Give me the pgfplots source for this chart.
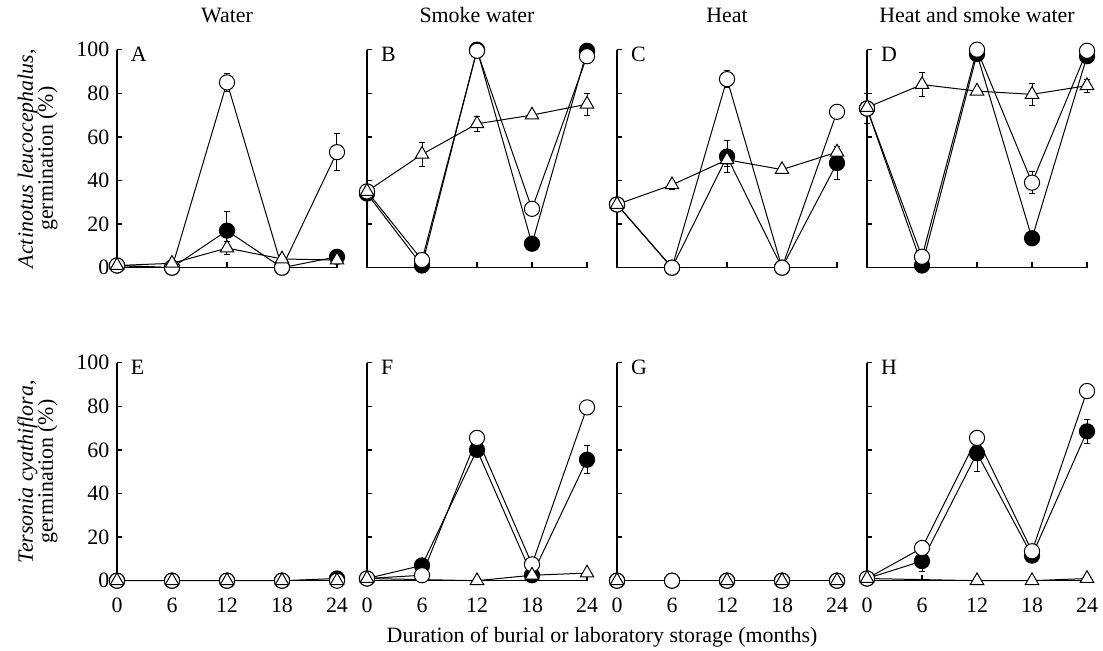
\documentclass[border=0pt,11pt]{standalone}
\usepackage{fontspec}
\setmainfont{Liberation Serif}
\usepackage{pgfplots}
\pgfplotsset{compat=1.18}
\usepackage{pgfplotstable}

% columns: months, filled circle (f), open circle (o), open triangle (t), each with its error
\pgfplotstableread{
x  f    fe   o    oe   t    te
0  1    0    1    0    1    0
6  0    0    0    0    2    0
12 17   9    85   4    9    3
18 0    0    0    0    4    0
24 5    1    53   8.5  3.5  0
}\tA
\pgfplotstableread{
x  f    fe   o    oe   t    te
0  34   3    35   3    35   2
6  1    0    3.5  0    52   5.5
12 100  0    99.5 0    66   3.5
18 11   0    27   0    70   1.5
24 99.5 0    97   0    75   5
}\tB
\pgfplotstableread{
x  f    fe   o    oe   t    te
0  29   2    29   2    29   1
6  0    0    0    0    38   2
12 51   7.5  86.5 4    49.5 3
18 0    0    0    0    45   1.5
24 48   7.5  71.5 2.5  53   0
}\tC
\pgfplotstableread{
x  f    fe   o    oe   t    te
0  73   0    73   7    73.5 0
6  1    0    5    0    84   5.5
12 98   0    100  0    81   1.5
18 13.5 0    39   5    79.5 5
24 97   0    99.5 0    83.5 3
}\tD
\pgfplotstableread{
x  f    fe   o    oe   t    te
0  0    0    0    0    0    0
6  0    0    0    0    0    0
12 0    0    0    0    0    0
18 0    0    0    0    0    0
24 1    0    0    0    0    0
}\tE
\pgfplotstableread{
x  f    fe   o    oe   t    te
0  1    0    1    0    1    0
6  7    0    2.5  0    nan  0
12 60   2    65.5 3    0    0
18 2.5  0    7.5  0    2.5  0
24 55.5 6.5  79.5 1    3.5  0
}\tF
\pgfplotstableread{
x  f    fe   o    oe   t    te
0  0    0    0    0    0    0
6  0    0    0    0    nan  0
12 0    0    0    0    0    0
18 0    0    0    0    0    0
24 0    0    0    0    0    0
}\tG
\pgfplotstableread{
x  f    fe   o    oe   t    te
0  1    0    1    0    1    0
6  9    5    15   0    nan  0
12 58.5 8.5  65.5 0    0    0
18 11.5 0    13.5 0    0    0
24 68.5 5.5  87   3    1    0
}\tH

\pgfplotsset{
  panel/.style={
    scale only axis, width=110pt, height=109pt,
    anchor=south west,
    xmin=0, xmax=24, ymin=0, ymax=100,
    axis x line*=bottom, axis y line*=left,
    axis line style={line width=0.65pt, -},
    xtick={0,6,12,18,24}, ytick={0,20,40,60,80,100},
    tick align=inside, major tick length=2.6pt,
    tick style={line width=0.65pt, black},
    xticklabel style={yshift=-5pt},
    /pgf/number format/assume math mode=true,
    clip=false,
  },
  nox/.style={xticklabels={}},
  noy/.style={yticklabels={}},
  ser/.style={black, line width=0.5pt,
    error bars/y dir=both, error bars/y explicit,
    error bars/error bar style={line width=0.5pt},
    error bars/error mark options={line width=0.5pt, mark size=1.5pt, rotate=90}},
  fser/.style={ser, mark=*, mark size=3.8pt, mark options={fill=black}},
  oser/.style={ser, mark=*, mark size=3.8pt, mark options={fill=white}},
  tser/.style={ser, mark=triangle*, mark size=3.9pt, mark options={fill=white}},
}

\newcommand{\series}[1]{%
  \addplot[fser] table[x=x, y=f, y error=fe] {#1};
  \addplot[oser] table[x=x, y=o, y error=oe] {#1};
  \addplot[tser] table[x=x, y=t, y error=te] {#1};
}
\newcommand{\letter}[1]{\node[anchor=base west, inner sep=0pt] at ([xshift=6.8pt, yshift=-5.8pt]rel axis cs:0,1) {#1};}
\newcommand{\coltitle}[1]{\node[anchor=base, inner sep=0pt] at ([yshift=13.7pt]rel axis cs:0.5,1) {#1};}

\begin{document}
\begin{tikzpicture}
\path[use as bounding box] (-58.5pt,-35.15pt) rectangle (493pt,290.35pt);

% top row: Actinotus leucocephalus
\begin{axis}[panel, nox, at={(0pt,156.5pt)}]
  \series{\tA}
  \letter{A}\coltitle{Water}
  \node[rotate=90, anchor=base, inner sep=0pt] at ([xshift=-42pt]rel axis cs:0,0.5) {\textit{Actinotus leucocephalus},};
  \node[rotate=90, anchor=base, inner sep=0pt] at ([xshift=-32pt]rel axis cs:0,0.5) {germination (\%)};
\end{axis}
\begin{axis}[panel, nox, noy, at={(125pt,156.5pt)}]
  \series{\tB}
  \letter{B}\coltitle{Smoke water}
\end{axis}
\begin{axis}[panel, nox, noy, at={(250pt,156.5pt)}]
  \series{\tC}
  \letter{C}\coltitle{Heat}
\end{axis}
\begin{axis}[panel, nox, noy, at={(375pt,156.5pt)}]
  \series{\tD}
  \letter{D}\coltitle{Heat and smoke water}
\end{axis}

% bottom row: Tersonia cyathiflora
\begin{axis}[panel, at={(0pt,0pt)}]
  \series{\tE}
  \letter{E}
  \node[rotate=90, anchor=base, inner sep=0pt] at ([xshift=-42pt]rel axis cs:0,0.5) {\textit{Tersonia cyathiflora},};
  \node[rotate=90, anchor=base, inner sep=0pt] at ([xshift=-32pt]rel axis cs:0,0.5) {germination (\%)};
\end{axis}
\begin{axis}[panel, noy, at={(125pt,0pt)}]
  \series{\tF}
  \letter{F}
\end{axis}
\begin{axis}[panel, noy, at={(250pt,0pt)}]
  \series{\tG}
  \letter{G}
\end{axis}
\begin{axis}[panel, noy, at={(375pt,0pt)}]
  \series{\tH}
  \letter{H}
\end{axis}

\node[anchor=base] at (242.5pt,-31pt) {Duration of burial or laboratory storage (months)};
\end{tikzpicture}
\end{document}
